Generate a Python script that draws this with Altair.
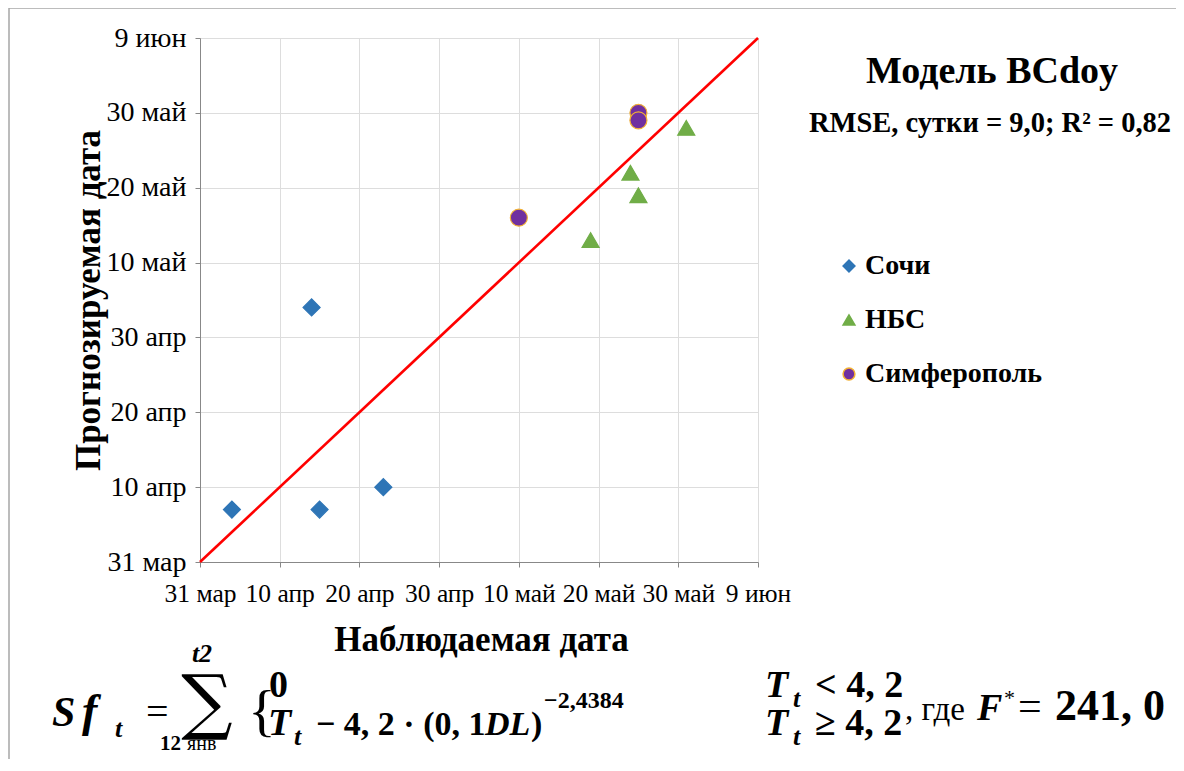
import json
import altair as alt
import pandas as pd

# ---- data (days after 31 March) ----
stations = ["Сочи", "НБС", "Симферополь"]
sochi_obs = [4, 14, 15, 23]
sochi_pred = [7, 34, 7, 10]
nbs_obs = [49, 54, 55, 61]
nbs_pred = [43, 52, 49, 58]
simf_obs = [40, 55, 55]
simf_pred = [46, 60, 59]
tick_values = [0, 10, 20, 30, 40, 50, 60, 70]
tick_labels = ["31 мар", "10 апр", "20 апр", "30 апр", "10 май", "20 май", "30 май", "9 июн"]
line_x = [0, 70]
line_y = [0, 70]

fill_colors = ["#2E75B6", "#70AD47", "#7030A0"]
stroke_colors = ["#2E75B6", "#70AD47", "#F2B134"]
shapes = ["diamond", "triangle-up", "circle"]

rows = []
for name, xs, ys in [(stations[0], sochi_obs, sochi_pred),
                     (stations[1], nbs_obs, nbs_pred),
                     (stations[2], simf_obs, simf_pred)]:
    for a, b in zip(xs, ys):
        rows.append({"station": name, "obs": a, "pred": b})
df = pd.DataFrame(rows)
line_df = pd.DataFrame({"obs": line_x, "pred": line_y})

SERIF = "'Liberation Serif', 'Times New Roman', Tinos, serif"
SIGMA = "'DejaVu Serif', 'Liberation Serif', serif"
OX, OY = 200, 38  # plot origin in page pixels
W, H = 558, 524
TOTAL_H = 751

label_expr = json.dumps(tick_labels, ensure_ascii=False) + "[round(datum.value / 10)]"
xscale = alt.Scale(domain=[0, 70], nice=False, zero=False)
yscale = alt.Scale(domain=[0, 70], nice=False, zero=False)

x_axis = alt.Axis(values=tick_values, labelExpr=label_expr, title="Наблюдаемая дата",
                  labelFont=SERIF, labelFontSize=25.5, labelColor="black", labelPadding=14,
                  labelOverlap=False, labelFlush=False,
                  titleFont=SERIF, titleFontSize=35, titleFontWeight="bold", titleColor="black",
                  titleX=281, titleY=88, titleBaseline="alphabetic", titleAnchor="middle")
y_axis = alt.Axis(values=tick_values, labelExpr=label_expr, title="Прогнозируемая дата",
                  labelFont=SERIF, labelFontSize=28, labelColor="black", labelPadding=9,
                  labelOverlap=False, labelFlush=False,
                  titleFont=SERIF, titleFontSize=35, titleFontWeight="bold", titleColor="black",
                  titleX=-101, titleY=262, titleAngle=-90, titleAlign="center",
                  titleBaseline="alphabetic")

legend = alt.Legend(orient="none", legendX=635, legendY=214, title=None,
                    labelFont=SERIF, labelFontSize=28, labelFontWeight="bold", labelColor="black",
                    labelLimit=400, symbolSize=140, rowPadding=26, labelOffset=2, padding=0)

points = alt.Chart(df).mark_point(filled=True, opacity=1, strokeWidth=1.2).encode(
    x=alt.X("obs:Q", scale=xscale, axis=x_axis),
    y=alt.Y("pred:Q", scale=yscale, axis=y_axis),
    shape=alt.Shape("station:N", scale=alt.Scale(domain=stations, range=shapes), legend=legend),
    fill=alt.Fill("station:N", scale=alt.Scale(domain=stations, range=fill_colors), legend=legend),
    stroke=alt.Stroke("station:N", scale=alt.Scale(domain=stations, range=stroke_colors), legend=legend),
    size=alt.value(290),
)

line = alt.Chart(line_df).mark_line(color="#FF0000", strokeWidth=2.6).encode(
    x=alt.X("obs:Q", scale=xscale),
    y=alt.Y("pred:Q", scale=yscale),
)

one = alt.Data(values=[{"a": 1}])


def txt(s, X, Y, size, weight="normal", style="normal", align="left", font=SERIF):
    return alt.Chart(one).mark_text(
        text=s, fontSize=size, fontWeight=weight, fontStyle=style, align=align,
        baseline="alphabetic", font=font, color="black"
    ).encode(x=alt.value(X - OX), y=alt.value(Y - OY))


texts = [
    txt("Модель BCdoy", 992, 83, 38, "bold", align="center"),
    txt("RMSE, сутки = 9,0; R² = 0,82", 990, 132, 28.5, "bold", align="center"),
    # formula left
    txt("S", 52, 726, 42, "bold", "italic"),
    txt("f", 82, 726, 46, "bold", "italic"),
    txt("t", 115, 737, 26, "bold", "italic"),
    txt("=", 146, 725, 40, "normal"),
    txt("∑", 207, 726, 72, "normal", align="center", font=SIGMA),
    txt("t2", 202, 662, 26, "bold", "italic", align="center"),
    txt("12", 160, 750, 21, "bold"),
    txt("янв", 187, 750, 20, "normal"),
    txt("{", 248, 730, 58, "normal"),
    txt("0", 269, 697, 38, "bold"),
    txt("T", 268, 735, 38, "bold", "italic"),
    txt("t", 294, 745, 26, "bold", "italic"),
    txt("− 4, 2 · (0, 1", 316, 735, 34, "bold"),
    txt("DL", 485, 735, 34, "bold", "italic"),
    txt(")", 531, 735, 34, "bold"),
    txt("−2,4384", 544, 708, 24, "bold"),
    # formula right
    txt("T", 765, 697, 38, "bold", "italic"),
    txt("t", 793, 707, 26, "bold", "italic"),
    txt("< 4, 2", 815, 697, 38, "bold"),
    txt("T", 765, 735, 38, "bold", "italic"),
    txt("t", 793, 745, 26, "bold", "italic"),
    txt("≥ 4, 2", 815, 735, 38, "bold"),
    txt(", где", 905, 720, 33, "normal"),
    txt("F", 977, 720, 38, "bold", "italic"),
    txt("*", 1004, 705, 22, "normal"),
    txt("=", 1018, 720, 42, "normal"),
    txt("241, 0", 1055, 720, 44, "bold"),
]

border = alt.Chart(one).mark_rect(fillOpacity=0, stroke="#A6A6A6", strokeWidth=1.5).encode(
    x=alt.value(9 - OX), x2=alt.value(1400 - OX), y=alt.value(8 - OY), y2=alt.value(1000 - OY)
)

chart = alt.layer(border, points, line, *texts).properties(
    width=W, height=H,
    autosize=alt.AutoSizeParams(type="none"),
    padding={"left": OX - 8, "top": OY - 8, "right": 1168 - (OX - 8) - W,
             "bottom": TOTAL_H - (OY - 8) - H},
).configure_axis(
    gridColor="#B3B3B3", domainColor="#B3B3B3", tickColor="#B3B3B3", tickSize=6,
    gridWidth=1, domainWidth=1,
).configure_view(stroke="#B3B3B3").configure(background="white")

chart.save("out.html", embed_options={"renderer": "svg", "actions": False})
